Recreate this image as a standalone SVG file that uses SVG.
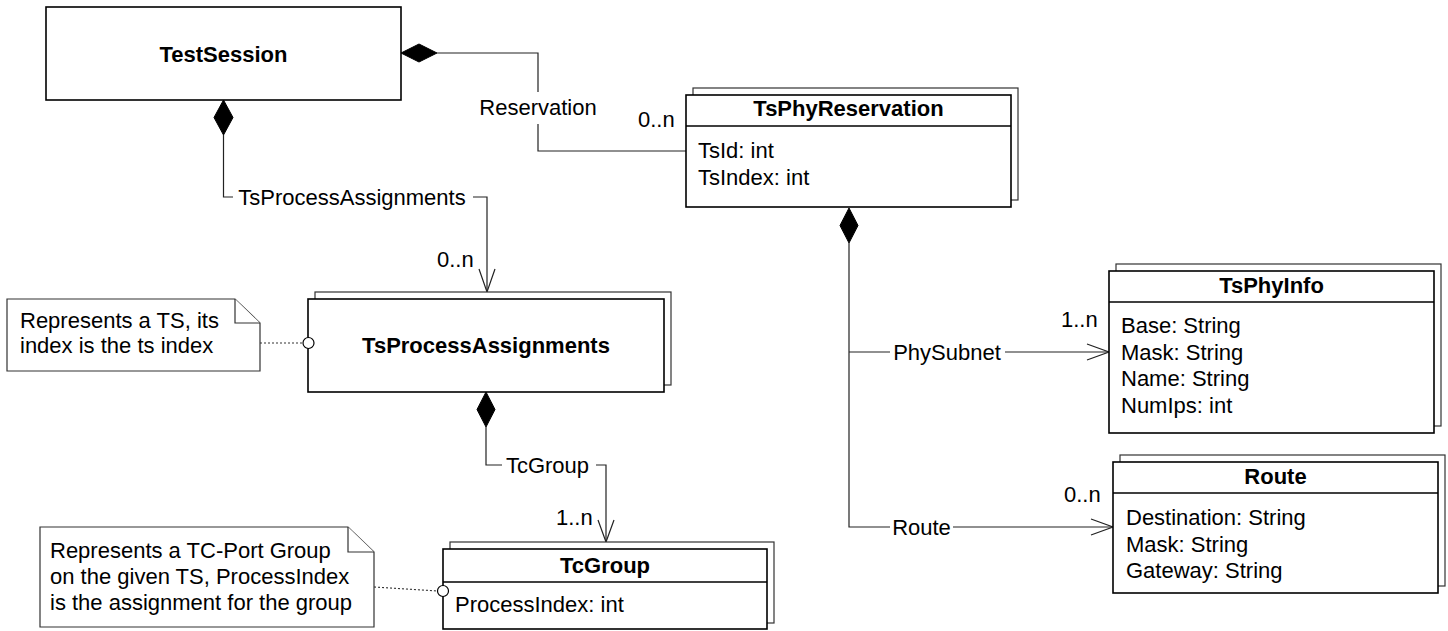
<svg xmlns="http://www.w3.org/2000/svg" width="1448" height="631" viewBox="0 0 1448 631">
<style>
text{font-family:"Liberation Sans",Arial,sans-serif;font-size:22px;fill:#000}
.b{font-weight:bold}
.m{text-anchor:middle}
.front{fill:#fff;stroke:#000;stroke-width:1.6}
.back{fill:#fff;stroke:#333;stroke-width:1.2}
.div{stroke:#000;stroke-width:1.4}
.ln{fill:none;stroke:#222;stroke-width:1.2}
.dia{fill:#000;stroke:#000;stroke-width:1}
.note{fill:#fff;stroke:#333;stroke-width:1.2}
.dot{fill:none;stroke:#333;stroke-width:1.2;stroke-dasharray:2,2}
.circ{fill:#fff;stroke:#000;stroke-width:1.2}
</style>
<rect width="1448" height="631" fill="#fff"/>

<g id="connectors">
  <!-- Reservation -->
  <polygon class="dia" points="401,53 419,44 437,53 419,62"/>
  <polyline class="ln" points="437,53 538,53 538,92"/>
  <polyline class="ln" points="538,124 538,151 686,151"/>
  <text x="538" y="115" class="m">Reservation</text>
  <text x="638" y="127">0..n</text>
  <!-- TsProcessAssignments -->
  <polygon class="dia" points="223.5,100 233,117.5 223.5,135 214,117.5"/>
  <polyline class="ln" points="223.5,135 223.5,197 233,197"/>
  <polyline class="ln" points="473,197 487,197 487,292"/>
  <polyline class="ln" points="479,269 487,292 495,269"/>
  <text x="352" y="205" class="m">TsProcessAssignments</text>
  <text x="437" y="267">0..n</text>
  <!-- TcGroup -->
  <polygon class="dia" points="486,392 495,409.5 486,427 477,409.5"/>
  <polyline class="ln" points="486,427 486,465 502,465"/>
  <polyline class="ln" points="596,465 606,465 606,542"/>
  <polyline class="ln" points="598,520 606,542 614,520"/>
  <text x="547.5" y="473" class="m">TcGroup</text>
  <text x="556" y="525">1..n</text>
  <!-- PhySubnet / Route -->
  <polygon class="dia" points="849,208 858,225.5 849,243 840,225.5"/>
  <polyline class="ln" points="849,243 849,527 890,527"/>
  <polyline class="ln" points="849,352 890,352"/>
  <polyline class="ln" points="1005,352 1109,352"/>
  <polyline class="ln" points="1087,344 1109,352 1087,360"/>
  <text x="947" y="360" class="m">PhySubnet</text>
  <text x="1061" y="327">1..n</text>
  <polyline class="ln" points="953,527 1113,527"/>
  <polyline class="ln" points="1091,519 1113,527 1091,535"/>
  <text x="921.5" y="535" class="m">Route</text>
  <text x="1064" y="502">0..n</text>
  <!-- note links -->
  <line class="dot" x1="260" y1="343" x2="303" y2="343"/>
  <line class="dot" x1="374" y1="587" x2="438" y2="591"/>
</g>

<g id="TestSession">
  <rect class="front" x="46" y="7" width="355" height="93"/>
  <text x="223.5" y="62" class="b m">TestSession</text>
</g>

<g id="TsPhyReservation">
  <rect class="back" x="693" y="88" width="325" height="112"/>
  <rect class="front" x="686" y="95" width="325" height="112"/>
  <line class="div" x1="686" y1="126" x2="1011" y2="126"/>
  <text x="848.5" y="116" class="b m">TsPhyReservation</text>
  <text x="698" y="158">TsId: int</text>
  <text x="698" y="185">TsIndex: int</text>
</g>

<g id="TsProcessAssignments">
  <rect class="back" x="315" y="292" width="356" height="93"/>
  <rect class="front" x="308" y="299" width="356" height="93"/>
  <text x="486" y="353" class="b m">TsProcessAssignments</text>
  <circle class="circ" cx="308.5" cy="343" r="5.5"/>
</g>

<g id="TcGroup">
  <rect class="back" x="450" y="542" width="324" height="81"/>
  <rect class="front" x="443" y="549" width="324" height="80"/>
  <line class="div" x1="443" y1="582" x2="767" y2="582"/>
  <text x="605" y="573" class="b m">TcGroup</text>
  <text x="455" y="612">ProcessIndex: int</text>
  <circle class="circ" cx="443" cy="591" r="5.5"/>
</g>

<g id="TsPhyInfo">
  <rect class="back" x="1116" y="264" width="325" height="162"/>
  <rect class="front" x="1109" y="271" width="325" height="162"/>
  <line class="div" x1="1109" y1="302" x2="1434" y2="302"/>
  <text x="1271.5" y="293" class="b m">TsPhyInfo</text>
  <text x="1121" y="333">Base: String</text>
  <text x="1121" y="360">Mask: String</text>
  <text x="1121" y="386">Name: String</text>
  <text x="1121" y="413">NumIps: int</text>
</g>

<g id="Route">
  <rect class="back" x="1120" y="455" width="325" height="131"/>
  <rect class="front" x="1113" y="462" width="325" height="131"/>
  <line class="div" x1="1113" y1="493" x2="1438" y2="493"/>
  <text x="1275.5" y="484" class="b m">Route</text>
  <text x="1126" y="525">Destination: String</text>
  <text x="1126" y="552">Mask: String</text>
  <text x="1126" y="578">Gateway: String</text>
</g>

<g id="note1">
  <polygon class="note" points="7,299 235,299 260,323 260,371 7,371"/>
  <polyline class="note" points="235,299 235,323 260,323"/>
  <text x="20" y="328">Represents a TS, its</text>
  <text x="20" y="353">index is the ts index</text>
</g>

<g id="note2">
  <polygon class="note" points="40,527 348,527 374,552 374,627 40,627"/>
  <polyline class="note" points="348,527 348,552 374,552"/>
  <text x="50" y="558">Represents a TC-Port Group</text>
  <text x="50" y="584">on the given TS, ProcessIndex</text>
  <text x="50" y="610">is the assignment for the group</text>
</g>
</svg>
